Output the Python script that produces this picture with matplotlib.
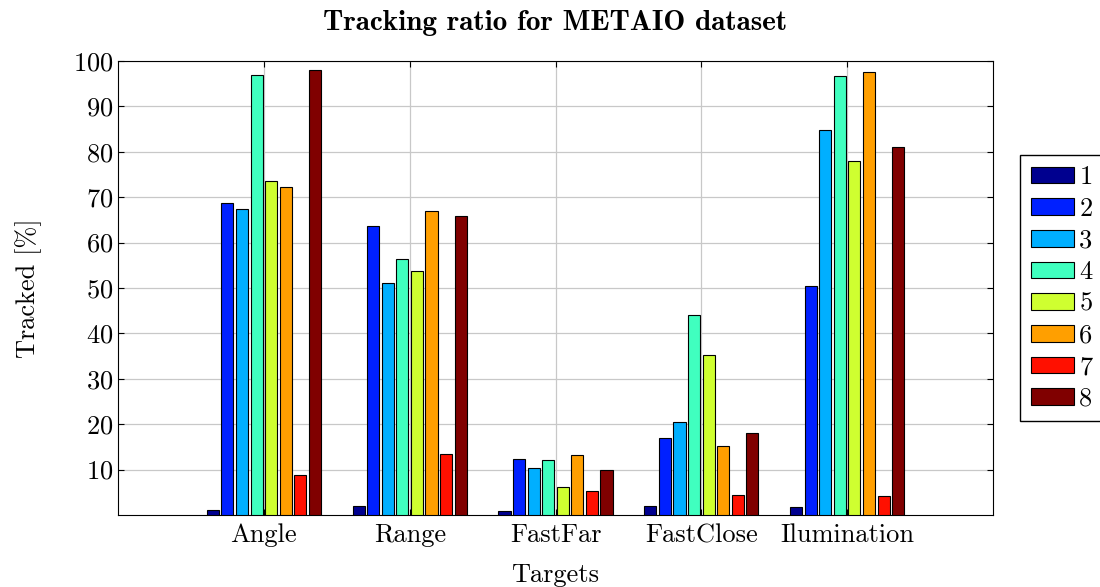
import numpy as np
import matplotlib
matplotlib.use("Agg")
import matplotlib.pyplot as plt

# Целевые сценарии и доля отслеживания (%) для каждого из 8 методов
targets = ["Angle", "Range", "FastFar", "FastClose", "Ilumination"]
series_names = ["1", "2", "3", "4", "5", "6", "7", "8"]
s1 = [1.2, 2.0, 0.9, 2.0, 1.8]
s2 = [68.8, 63.7, 12.3, 17.0, 50.4]
s3 = [67.5, 51.2, 10.4, 20.4, 84.8]
s4 = [96.9, 56.3, 12.0, 44.0, 96.7]
s5 = [73.6, 53.7, 6.2, 35.3, 78.0]
s6 = [72.2, 66.9, 13.3, 15.2, 97.5]
s7 = [8.7, 13.4, 5.3, 4.3, 4.2]
s8 = [98.0, 65.9, 9.8, 18.0, 81.1]
series = [s1, s2, s3, s4, s5, s6, s7, s8]

colors = ["#00008f", "#0020ff", "#00afff", "#40ffbf",
          "#cfff30", "#ff9f00", "#ff1000", "#800000"]

plt.rcParams["font.family"] = ["cmr10"]
plt.rcParams["axes.formatter.use_mathtext"] = True

fig = plt.figure(figsize=(11, 5.87), dpi=100)
ax = fig.add_axes([0.1073, 0.1227, 0.7954, 0.7734])

x = np.arange(len(targets))
step = 0.1
width = 0.083
for i, (vals, name, c) in enumerate(zip(series, series_names, colors)):
    ax.bar(x + (i - 3.5) * step, vals, width, color=c, edgecolor="black",
           linewidth=0.8, label=name, zorder=3)

ax.set_xlim(-1, 5)
ax.set_ylim(0, 100)
ax.set_xticks(x)
ax.set_xticklabels(targets)
ax.set_yticks(np.arange(10, 101, 10))
ax.tick_params(direction="in", top=True, right=True, labelsize=19, length=4)
ax.tick_params(axis="x", pad=6)

ax.grid(True, color="#c8c8c8", linewidth=0.9, zorder=0)
ax.set_axisbelow(True)
for sp in ax.spines.values():
    sp.set_linewidth(0.8)

ax.set_xlabel("Targets", fontsize=19, labelpad=12)
ax.set_ylabel("Tracked [%]", fontsize=19, labelpad=22)
ax.set_title("Tracking ratio for METAIO dataset", fontsize=21,
             family="cmb10", pad=22)

fig.legend(loc="upper left", bbox_to_anchor=(1020 / 1100, 1 - 155 / 587),
           fontsize=19, frameon=True, fancybox=False, edgecolor="black",
           handlelength=1.65, handleheight=0.6, labelspacing=0.3,
           handletextpad=0.2, borderpad=0.4, borderaxespad=0,
           framealpha=1)

fig.savefig("out.png", dpi=100)
